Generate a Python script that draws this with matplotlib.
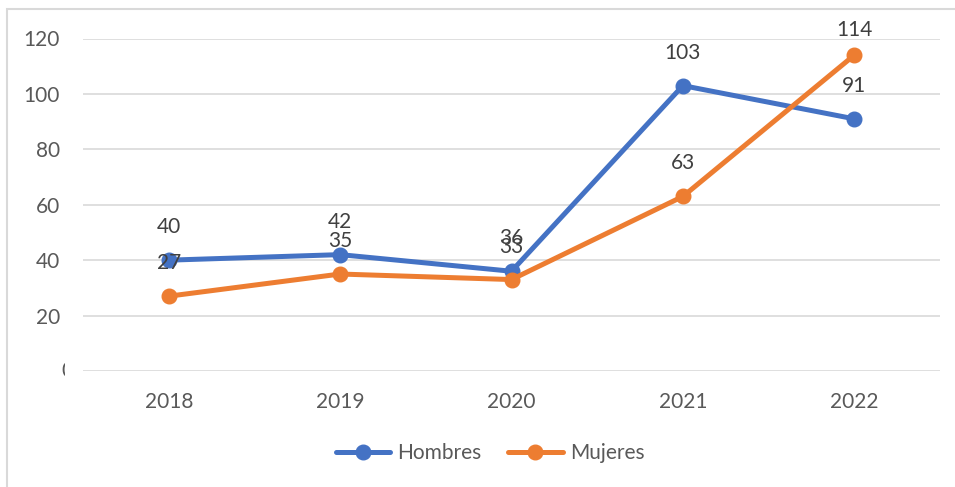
import matplotlib
matplotlib.use("Agg")
import matplotlib.pyplot as plt
from matplotlib.patches import Rectangle

years = ["2018", "2019", "2020", "2021", "2022"]
hombres = [40, 42, 36, 103, 91]
mujeres = [27, 35, 33, 63, 114]
yticks = [20, 40, 60, 80, 100, 120]

BLUE = "#4472C4"
ORANGE = "#ED7D31"
GRID = "#D9D9D9"
TXT = "#595959"
LBL = "#404040"

plt.rcParams['font.family'] = ['Lato', 'DejaVu Sans']

W, H = 955, 487
Y0, Y120 = 371, 38.5
fig = plt.figure(figsize=(W / 100, H / 100), dpi=100)
ax = fig.add_axes([83 / W, 1 - Y0 / H, (940 - 83) / W, (Y0 - Y120) / H])

x = list(range(len(years)))
ax.plot(x, hombres, color=BLUE, lw=3.6, marker='o', ms=10.5, label="Hombres", zorder=3,
        solid_capstyle='round')
ax.plot(x, mujeres, color=ORANGE, lw=3.6, marker='o', ms=10.5, label="Mujeres", zorder=4,
        solid_capstyle='round')

px_per_unit = (Y0 - Y120) / 120.0
label_off = 33 / px_per_unit            # 33 px above the point
label_max = 120 + (Y120 - 30) / px_per_unit  # labels kept inside the chart area

for series in (hombres, mujeres):
    for xi, v in zip(x, series):
        ly = min(v + label_off, label_max)
        ax.text(xi, ly, str(v), ha='center', va='center', fontsize=15, color=LBL,
                zorder=6, clip_on=False)

ax.set_xlim(-0.5, len(years) - 0.5)
ax.set_ylim(0, 120)
ax.set_xticks(x)
ax.set_xticklabels(years)
ax.set_yticks(yticks)
ax.set_yticklabels([str(t) for t in yticks])
ax.tick_params(axis='both', length=0, labelsize=15, labelcolor=TXT)
ax.tick_params(axis='y', pad=16.5)
ax.tick_params(axis='x', pad=15)
ax.yaxis.grid(True, color=GRID, lw=1.2)
ax.set_axisbelow(True)
for s in ax.spines.values():
    s.set_visible(False)
ax.axhline(0, color=GRID, lw=1.2, zorder=1)

# clipped "0" label
t0 = fig.text(61 / W, 1 - Y0 / H, "0", ha='left', va='center', fontsize=15, color=TXT)
clip = Rectangle((0, 0), 64.5 / W, 1, transform=fig.transFigure, visible=False)
fig.add_artist(clip)
t0.set_clip_path(clip)

# chart border
border = Rectangle((7 / W, -0.1), 1.2, (1 - 9 / H) + 0.1, transform=fig.transFigure,
                   fill=False, edgecolor=GRID, lw=1.5)
fig.add_artist(border)

fig.legend(loc='center', bbox_to_anchor=(490 / W, 1 - 453 / H), ncol=2, frameon=False,
           fontsize=15, handlelength=2.6, handletextpad=0.35, columnspacing=1.3,
           labelcolor=TXT)

fig.savefig("out.png", dpi=100)
